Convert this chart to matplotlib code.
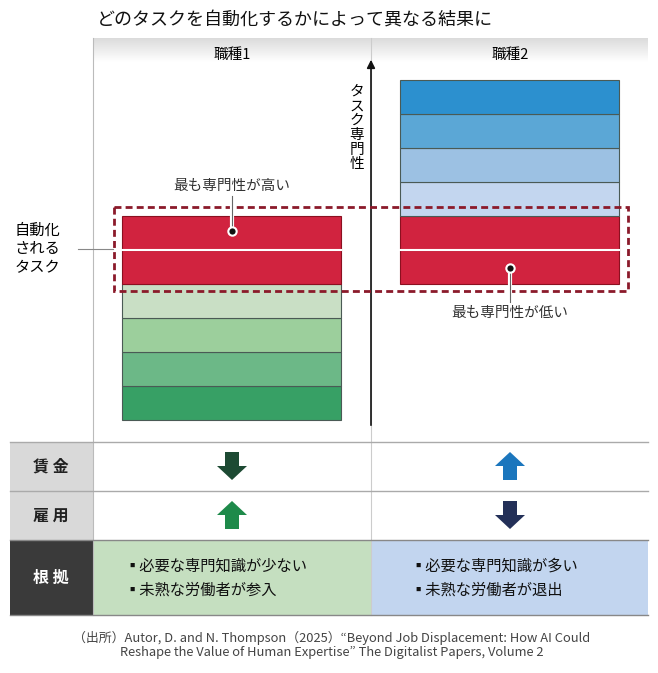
import matplotlib
matplotlib.use("Agg")
import matplotlib.pyplot as plt
from matplotlib.patches import Rectangle, Polygon
import numpy as np

plt.rcParams['font.family'] = ['Noto Sans CJK JP', 'DejaVu Sans']

title = "どのタスクを自動化するかによって異なる結果に"
jobs = ["職種1", "職種2"]
# expertise levels of each task (bottom to top) and whether automated
job1_levels = [0, 1, 2, 3, 4, 5]
job1_auto = [False, False, False, False, True, True]
job1_colors = ["#37a065", "#6cb887", "#9ccf9c", "#c9dfc5", "#d1233f", "#d1233f"]
job2_levels = [4, 5, 6, 7, 8, 9]
job2_auto = [True, True, False, False, False, False]
job2_colors = ["#d1233f", "#d1233f", "#c3d6ef", "#9cc1e3", "#5ba7d6", "#2c90cf"]
rows = ["賃 金", "雇 用", "根 拠"]
wage_dir = [-1, 1]
emp_dir = [1, -1]
reasons = [["▪必要な専門知識が少ない", "▪未熟な労働者が参入"],
           ["▪必要な専門知識が多い", "▪未熟な労働者が退出"]]
source = ("（出所）Autor, D. and N. Thompson（2025）“Beyond Job Displacement: How AI Could\n"
          "Reshape the Value of Human Expertise” The Digitalist Papers, Volume 2")

fig = plt.figure(figsize=(6.58, 6.73), dpi=100)
ax = fig.add_axes([0, 0, 1, 1])
ax.set_xlim(0, 658); ax.set_ylim(673, 0); ax.axis('off')

ax.text(97, 20, title, fontsize=13, va='center', ha='left', color='#111')

# header band gradient
grad = np.linspace(0.86, 1.0, 50).reshape(-1, 1)
ax.imshow(np.dstack([grad, grad, grad]), extent=[93, 648, 62, 38], aspect='auto', zorder=0)
ax.text(232, 55, jobs[0], fontsize=10.5, ha='center', va='center')
ax.text(510, 55, jobs[1], fontsize=10.5, ha='center', va='center')
ax.plot([93, 93], [38, 615], color='#bbb', lw=0.8)
ax.plot([371, 371], [38, 615], color='#ccc', lw=0.8)

base, h = 420, 34
def stack(x0, w, levels, colors):
    for lv, c in zip(levels, colors):
        y = base - h * (lv + 1)
        ax.add_patch(Rectangle((x0, y), w, h, facecolor=c, edgecolor='#4a5a55' if c != '#d1233f' else '#8b1020', lw=0.8, zorder=2))
stack(122, 219, job1_levels, job1_colors)
stack(400, 219, job2_levels, job2_colors)
# white gaps between red boxes
for x0 in (122, 400):
    ax.plot([x0, x0 + 219], [base - 5 * h, base - 5 * h], color='white', lw=1.5, zorder=3)

# axis arrow
ax.annotate("", xy=(371, 57), xytext=(371, 428),
            arrowprops=dict(arrowstyle='-|>', color='#111', lw=1.2, mutation_scale=12), zorder=4)
ax.text(357, 128, "タ\nス\nク\n専\n門\n性", fontsize=10.5, ha='center', va='center', linespacing=1.05, zorder=4)

# dashed box
ax.add_patch(Rectangle((114, 207), 514, 84, fill=False, edgecolor='#8b1a2a', lw=2, ls=(0, (2.5, 1.5)), zorder=5))
ax.text(60, 249, "自動化\nされる\nタスク", fontsize=11, ha='right', va='center', linespacing=1.15, zorder=5,
        multialignment='right')
ax.plot([78, 113], [249, 249], color='#888', lw=0.8)

# callouts
ax.text(232, 186, "最も専門性が高い", fontsize=10.5, ha='center', va='center', color='#333')
ax.plot([232, 232], [196, 231], color='white', lw=3, zorder=6)
ax.plot([232, 232], [196, 231], color='#666', lw=0.8, zorder=6)
ax.plot(232, 231, 'o', ms=6, mfc='#111', mec='white', mew=1.5, zorder=7)
ax.text(510, 313, "最も専門性が低い", fontsize=10.5, ha='center', va='center', color='#333')
ax.plot([510, 510], [268, 302], color='white', lw=3, zorder=6)
ax.plot([510, 510], [268, 302], color='#666', lw=0.8, zorder=6)
ax.plot(510, 268, 'o', ms=6, mfc='#111', mec='white', mew=1.5, zorder=7)

# table
tops = [442, 491, 540]
bots = [491, 540, 615]
for i, (t, b) in enumerate(zip(tops, bots)):
    col = '#d9d9d9' if i < 2 else '#3a3a3a'
    ax.add_patch(Rectangle((10, t), 83, b - t, facecolor=col, edgecolor='none'))
    ax.text(51, (t + b) / 2, rows[i], fontsize=11.5, ha='center', va='center',
            color='#222' if i < 2 else 'white', fontweight='bold')
ax.add_patch(Rectangle((93, 540), 278, 75, facecolor='#c5dfc0', edgecolor='none'))
ax.add_patch(Rectangle((371, 540), 277, 75, facecolor='#c2d5ef', edgecolor='none'))
for y in (442, 491):
    ax.plot([10, 648], [y, y], color='#aaa', lw=1)
ax.plot([10, 648], [540, 540], color='#888', lw=1)
ax.plot([10, 648], [615, 615], color='#888', lw=1)

def arrow(x, yc, d, color):
    hw, sw, L = 15, 7, 28
    yt, yb = yc - L / 2, yc + L / 2
    if d > 0:
        pts = [(x, yt), (x + hw, yt + 14), (x + sw, yt + 14), (x + sw, yb), (x - sw, yb), (x - sw, yt + 14), (x - hw, yt + 14)]
    else:
        pts = [(x, yb), (x + hw, yb - 14), (x + sw, yb - 14), (x + sw, yt), (x - sw, yt), (x - sw, yb - 14), (x - hw, yb - 14)]
    ax.add_patch(Polygon(pts, closed=True, facecolor=color, edgecolor='none'))
wage_cols = ['#1d4a33', '#1b76bd']
emp_cols = ['#1e8a4a', '#233058']
for j, x in enumerate((232, 510)):
    arrow(x, 466, wage_dir[j], wage_cols[j])
    arrow(x, 515, emp_dir[j], emp_cols[j])

for j, x in enumerate((124, 410)):
    for k, s in enumerate(reasons[j]):
        ax.text(x, 566 + k * 24, s, fontsize=11, ha='left', va='center', color='#111')

ax.text(332, 645, source, fontsize=9.3, ha='center', va='center', color='#444', linespacing=1.15)

fig.savefig("out.png", dpi=100)
